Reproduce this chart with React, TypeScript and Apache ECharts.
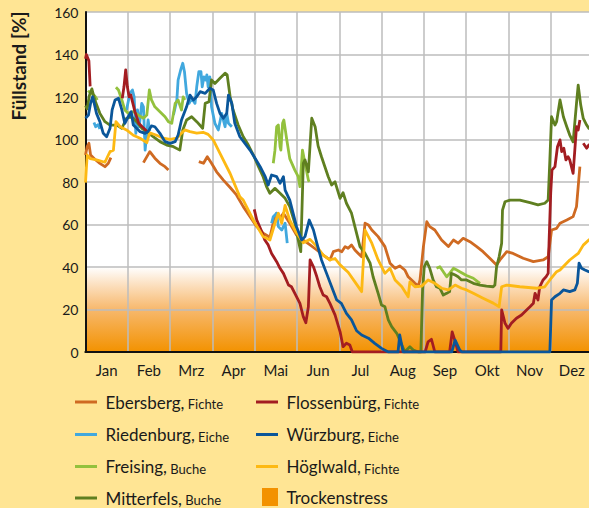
import React, { useEffect, useRef } from "react";
import * as echarts from "echarts";

// x = month position (0 = 1 Jan, 12 = 31 Dec), y = Füllstand in %
const months = ["Jan", "Feb", "Mrz", "Apr", "Mai", "Jun", "Jul", "Aug", "Sep", "Okt", "Nov", "Dez"];

const ebersberg: number[][][] = [
  [[0, 92.7], [0.04, 96.6], [0.08, 98.2], [0.12, 92.7], [0.22, 90.7], [0.34, 88.8], [0.46, 87.2], [0.54, 88.8], [0.6, 91.5]],
  [[1.37, 89.1], [1.52, 94.3], [1.64, 91.2], [1.76, 88.8], [1.88, 87.2], [1.96, 85.6]],
  [[2.68, 89.6], [2.79, 88.8], [2.88, 91.9], [2.98, 88.8], [3.1, 84.8], [3.26, 80.9], [3.42, 77.4], [3.57, 73.9], [3.73, 68.4],
   [3.89, 63.7], [4.05, 59], [4.2, 55.9], [4.36, 54], [4.43, 60], [4.52, 65.3], [4.6, 63], [4.68, 65.3], [4.83, 60.6], [4.99, 55],
   [5.15, 52.7], [5.31, 50.4], [5.47, 48], [5.62, 45.6], [5.78, 43.3], [5.86, 47.2], [5.98, 48], [6.06, 47.2], [6.14, 49.6],
   [6.21, 48.8], [6.29, 50.4], [6.37, 48], [6.45, 46.4], [6.53, 44.8], [6.61, 60.6], [6.69, 59.8], [6.77, 57.4], [6.92, 54.3],
   [7.08, 49.6], [7.2, 41.8], [7.32, 39.4], [7.43, 40.5], [7.55, 38.6], [7.63, 35.4], [7.79, 32.3], [7.87, 31], [7.91, 33.9],
   [7.99, 49.6], [8.07, 61.3], [8.14, 59], [8.26, 57.4], [8.42, 52.7], [8.58, 49.6], [8.7, 52.7], [8.81, 51.2], [8.93, 53.5],
   [9.09, 51.9], [9.25, 49.6], [9.4, 47.2], [9.56, 44.1], [9.72, 40.9], [9.8, 43.3], [9.96, 47.2], [10.11, 46.4], [10.35, 44.1],
   [10.59, 42.5], [10.82, 43.3], [10.94, 44.8], [11.02, 57.4], [11.14, 58.2], [11.22, 60.6], [11.38, 62.1], [11.53, 63.7],
   [11.61, 68.4], [11.65, 77.8], [11.69, 87.2]],
];

const flossenbuerg: number[][][] = [
  [[0, 138], [0.02, 140], [0.08, 137], [0.11, 125]],
  [[0.87, 119.4], [0.91, 124.8], [0.95, 132.7], [0.99, 124.8], [1.03, 120.1], [1.07, 121], [1.11, 117.8], [1.17, 113],
   [1.26, 107.6], [1.34, 106], [1.42, 104.5], [1.46, 103.7]],
  [[3.99, 67.1], [4.05, 62.1], [4.17, 56.6], [4.24, 52.7], [4.32, 50.4], [4.4, 46.4], [4.52, 42.5], [4.6, 39.4], [4.68, 37],
   [4.8, 31.5], [4.87, 30.7], [4.95, 27.6], [5.07, 22.9], [5.15, 16.6], [5.21, 13.8], [5.27, 21.3], [5.31, 43.3], [5.39, 40.1],
   [5.47, 35.4], [5.54, 30.7], [5.62, 26.8], [5.7, 26], [5.78, 22.9], [5.9, 17.5], [6.02, 9.5], [6.09, 2.5], [6.17, 4.1],
   [6.25, 3.3], [6.31, 0], [8.03, 0], [8.1, 4.8], [8.18, 6], [8.26, 0], [8.61, 0], [8.67, 9.5], [8.74, 5], [8.81, 0],
   [9.82, 0], [9.84, 19.8], [9.92, 13.5], [9.99, 11.1], [10.07, 13.5], [10.19, 15.9], [10.31, 17.4], [10.43, 19.8],
   [10.51, 21.3], [10.59, 22.9], [10.63, 27.6], [10.7, 24.5], [10.74, 30.7], [10.82, 33.9], [10.89, 35.4], [10.94, 37],
   [10.96, 51.2], [11.0, 74.7], [11.03, 85.6], [11.1, 87.2], [11.16, 96.6], [11.22, 99.8], [11.26, 94.3], [11.31, 95.9],
   [11.36, 90.4], [11.41, 91.9], [11.45, 90.4], [11.53, 84.1], [11.57, 95], [11.61, 106], [11.65, 104.5], [11.69, 109.2]],
  [[11.77, 98.2], [11.85, 95.9], [11.9, 97.4], [12, 96]],
];

const riedenburg: number[][][] = [
  [[0.2, 108], [0.24, 106], [0.3, 107], [0.34, 105]],
  [[0.97, 113.9], [1.05, 121.7], [1.11, 123.3], [1.15, 120.1], [1.19, 102.9], [1.23, 113.9], [1.27, 106], [1.33, 117],
   [1.37, 115.4], [1.41, 95], [1.45, 102.9], [1.48, 109.2], [1.52, 104]],
  [[2.08, 111.5], [2.16, 118.6], [2.19, 128], [2.25, 132.7], [2.3, 135.9], [2.34, 131.9], [2.39, 121.7], [2.45, 117],
   [2.51, 119.4], [2.59, 117], [2.63, 124.8], [2.68, 131.9], [2.73, 131.9], [2.76, 124.8], [2.8, 129.5], [2.84, 128],
   [2.87, 130.4], [2.9, 124.8], [2.94, 129.5], [2.98, 115.4], [3.06, 107.6], [3.14, 104.5], [3.22, 112.3], [3.3, 106],
   [3.34, 112.3], [3.38, 107.6], [3.46, 106]],
  [[4.4, 60.6], [4.44, 63.7], [4.52, 65.3], [4.56, 59], [4.64, 57.4], [4.72, 60.6], [4.77, 51.2]],
];

const wuerzburg: number[][][] = [
  [[0, 110], [0.07, 111.5], [0.12, 117], [0.17, 120.1], [0.26, 112.3], [0.34, 108.4], [0.42, 102.9], [0.5, 101.3], [0.58, 105.3],
   [0.63, 113.9], [0.7, 118.6], [0.78, 119.4], [0.86, 113.9], [0.93, 107.6], [1.01, 110.7], [1.08, 113.1], [1.13, 106.8],
   [1.21, 105.3], [1.29, 103.7], [1.41, 102.9], [1.48, 103.7], [1.56, 106.4], [1.64, 106], [1.76, 102.9], [1.88, 99],
   [2.0, 98.2], [2.12, 99], [2.19, 102.1], [2.27, 109.2], [2.39, 115.4], [2.47, 120.9], [2.55, 118.6], [2.63, 120.1],
   [2.71, 122.5], [2.83, 121.7], [2.94, 124.1], [3.02, 123.3], [3.1, 117], [3.18, 112.3], [3.26, 110], [3.34, 112.3],
   [3.38, 120.9], [3.46, 117], [3.53, 107.6], [3.65, 101.3], [3.77, 98.2], [3.89, 95], [4.01, 91.2], [4.13, 87.2],
   [4.25, 82.5], [4.32, 78.6], [4.4, 83.3], [4.52, 82.5], [4.6, 79.4], [4.68, 82.5], [4.72, 76.2], [4.83, 71.5], [4.99, 59],
   [5.11, 52.7], [5.19, 54.3], [5.29, 62.1], [5.39, 57.4], [5.47, 51.2], [5.58, 43.3], [5.7, 37], [5.82, 30.7], [5.94, 24.5],
   [6.05, 22.9], [6.17, 18.2], [6.29, 15.1], [6.41, 10], [6.53, 8], [6.69, 6.5], [6.84, 4.1], [7.0, 1.7], [7.16, 0],
   [7.39, 0], [7.43, 8], [7.51, 0], [8.66, 0], [8.74, 5.6], [8.85, 0.9], [8.9, 0], [10.98, 0], [11.02, 24.5], [11.1, 26],
   [11.22, 27.6], [11.3, 29.2], [11.45, 28.4], [11.57, 29.2], [11.63, 32.3], [11.67, 41.8], [11.73, 39.4], [11.81, 38.6],
   [11.9, 37.8], [12, 37.5]],
];

const freising: number[][][] = [
  [[0.06, 123], [0.11, 122], [0.22, 120.5], [0.28, 118.6]],
  [[0.72, 124.6], [0.78, 123.3], [0.86, 118.6], [0.93, 113.9], [1.01, 112.3], [1.13, 113.1], [1.25, 111.5], [1.37, 110],
   [1.45, 111.5], [1.51, 123.3], [1.56, 118.6], [1.64, 115.4], [1.76, 113.1], [1.88, 110.7], [1.96, 108.4], [2.04, 107.6],
   [2.08, 112.3], [2.12, 117], [2.19, 118.6], [2.27, 113.9], [2.31, 120.1], [2.35, 118.6]],
  [[4.44, 88.8], [4.48, 95], [4.52, 106], [4.56, 106.8], [4.6, 96.6], [4.62, 95], [4.66, 107.6], [4.69, 109.2], [4.76, 99.8],
   [4.83, 91], [4.95, 85.6], [5.03, 82.5], [5.07, 77.8], [5.13, 95], [5.19, 88.8], [5.27, 80.9], [5.29, 80.1]],
  [[8.3, 39.4], [8.38, 40.1], [8.46, 37.8], [8.54, 35.4], [8.61, 37], [8.7, 39.4], [8.78, 38.6], [8.85, 37.8], [9.01, 36],
   [9.17, 34.7], [9.28, 33], [9.33, 32.3]],
];

const hoeglwald: number[][][] = [
  [[0, 79.7], [0.04, 92.7], [0.11, 91], [0.26, 90.4], [0.46, 89.3], [0.54, 92.7], [0.58, 94.3], [0.66, 95], [0.72, 108.4],
   [0.82, 106], [0.97, 104.5], [1.13, 102], [1.29, 100.6], [1.45, 98.5], [1.52, 103.2], [1.68, 102], [1.84, 100.6],
   [2.0, 100.1], [2.16, 100.6], [2.27, 103], [2.35, 104.5], [2.47, 103.7], [2.63, 103], [2.78, 103.4], [2.9, 102.4],
   [3.02, 99.8], [3.18, 93.5], [3.42, 84], [3.65, 73], [3.73, 71.5], [3.97, 62], [4.2, 54.3], [4.36, 52.7], [4.48, 60.6],
   [4.56, 65.3], [4.64, 60.6], [4.72, 69], [4.83, 62], [4.99, 56], [5.15, 51.4], [5.31, 53], [5.47, 49.6], [5.62, 45.6],
   [5.78, 43.3], [5.9, 44], [6.02, 41], [6.21, 37.5], [6.37, 33], [6.53, 28.4], [6.61, 57.4], [6.77, 51.2], [6.92, 43.3],
   [7.08, 37], [7.2, 39.4], [7.32, 33.9], [7.48, 30.7], [7.63, 26], [7.67, 33], [7.79, 30.7], [7.95, 31], [8.1, 33.9],
   [8.26, 32.3], [8.42, 30], [8.58, 29.2], [8.74, 31.5], [8.89, 30], [9.01, 29.2], [9.17, 27.6], [9.4, 25.3], [9.64, 23],
   [9.78, 21.3], [9.84, 30.7], [9.96, 31.5], [10.27, 30.7], [10.67, 30], [10.86, 30.7], [10.98, 33.9], [11.14, 37.8],
   [11.22, 38.6], [11.45, 43.3], [11.65, 46.4], [11.77, 50.3], [11.9, 52.7], [12, 54]],
];

const mitterfels: number[][][] = [
  [[0, 115.9], [0.04, 114.4], [0.09, 120.6], [0.15, 123.8], [0.22, 118.6], [0.34, 112.3], [0.46, 108.4], [0.58, 106.8],
   [0.74, 106.8], [0.86, 105.3], [0.97, 110], [1.09, 110.7], [1.21, 108.4], [1.33, 105.3], [1.45, 103.7], [1.6, 101.3],
   [1.76, 99], [1.92, 97.4], [2.08, 96.6], [2.23, 95], [2.3, 104.5], [2.39, 109.2], [2.51, 110.7], [2.63, 108.4],
   [2.77, 105.3], [2.83, 117], [2.92, 117.8], [2.98, 128], [3.06, 126.4], [3.18, 128.8], [3.3, 131.2], [3.35, 130.4],
   [3.42, 120.1], [3.49, 113.9], [3.61, 106.8], [3.73, 101.3], [3.85, 97.4], [3.97, 92.7], [4.09, 87.2], [4.2, 82.5],
   [4.28, 77.8], [4.36, 74.7], [4.48, 77], [4.6, 74.7], [4.72, 72.3], [4.83, 68.4], [4.95, 60.6], [5.03, 52.7],
   [5.09, 47.2], [5.15, 88.8], [5.19, 90.4], [5.27, 84.8], [5.35, 110], [5.43, 106], [5.5, 97], [5.58, 91.9],
   [5.66, 87.2], [5.74, 82.5], [5.82, 78.6], [5.9, 80.1], [6.02, 72.3], [6.09, 75], [6.17, 70], [6.29, 65.3], [6.37, 59],
   [6.49, 49.6], [6.61, 46.4], [6.73, 41.8], [6.8, 35.4], [6.92, 27.6], [7.0, 22.1], [7.08, 21.3], [7.16, 15.1],
   [7.24, 11.9], [7.36, 8.8], [7.48, 3.3], [7.55, 0.1], [7.67, 2.5], [7.75, 0.9], [7.87, 0], [7.93, 0], [7.97, 29.2],
   [8.01, 40.1], [8.07, 42.5], [8.14, 39.4], [8.22, 33.9], [8.3, 30.7], [8.38, 30], [8.46, 26.8], [8.54, 27.6],
   [8.61, 28.4], [8.65, 37], [8.74, 36.2], [8.81, 35.4], [8.89, 33.9], [9.01, 33.9], [9.17, 32.3], [9.33, 31.5],
   [9.48, 31], [9.64, 30.7], [9.68, 31.5], [9.72, 40.1], [9.78, 44.8], [9.84, 51.2], [9.86, 66.8], [9.92, 70.7],
   [10.04, 71.5], [10.27, 71.5], [10.51, 70.3], [10.7, 69.2], [10.86, 70], [10.94, 71.5], [10.98, 90.4], [11.02, 110.7],
   [11.1, 106.8], [11.14, 108.4], [11.22, 118.6], [11.3, 110.7], [11.38, 106], [11.45, 102.1], [11.53, 98.9],
   [11.61, 117], [11.65, 125.6], [11.71, 116.2], [11.77, 109.9], [11.85, 106.8], [11.9, 105.3], [12, 104]],
];

const stationNames = ["Ebersberg", "Flossenbürg", "Riedenburg", "Würzburg", "Freising", "Höglwald", "Mitterfels"];
const treeTypes = ["Fichte", "Fichte", "Eiche", "Eiche", "Buche", "Fichte", "Buche"];
const stationData = [ebersberg, flossenbuerg, riedenburg, wuerzburg, freising, hoeglwald, mitterfels];
const stressLabel = "Trockenstress";
const stressLimit = 40;

const COLORS = ["#CF6A22", "#A31D21", "#41A8DE", "#0A569A", "#93C13D", "#FDB913", "#5F7F20"];
const BG = "#FFE594";
const FONT = "Lato";
const TXT = "#1a1a1a";
const DRAW_ORDER = [0, 2, 4, 6, 1, 5, 3];

export default function App() {
  const ref = useRef<HTMLDivElement>(null);

  useEffect(() => {
    if (!ref.current) return;
    const chart = echarts.init(ref.current, undefined, { renderer: "svg" });

    const series: any[] = [];
    DRAW_ORDER.forEach((i) => {
      stationData[i].forEach((seg, k) => {
        series.push({
          type: "line",
          name: stationNames[i] + "-" + k,
          xAxisIndex: 0,
          yAxisIndex: 0,
          data: seg,
          symbol: "none",
          showSymbol: false,
          silent: true,
          lineStyle: { color: COLORS[i], width: 2.8, join: "round" },
        });
      });
    });

    const legendRowsY = [402, 434.5, 466.5, 498];
    const leftCol = [0, 2, 4, 6];
    const rightCol = [1, 3, 5];
    const graphic: any[] = [];
    const addItem = (idx: number, x: number, y: number) => {
      graphic.push({
        type: "line",
        shape: { x1: x, y1: y, x2: x + 22, y2: y },
        style: { stroke: COLORS[idx], lineWidth: 3 },
      });
      graphic.push({
        type: "text",
        x: x + 30.5,
        y: y,
        style: {
          text: "{a|" + stationNames[idx] + ",} {b|" + treeTypes[idx] + "}",
          verticalAlign: "middle",
          align: "left",
          rich: {
            a: { fontSize: 17, fontFamily: FONT, fill: TXT, verticalAlign: "bottom" },
            b: { fontSize: 13, fontFamily: FONT, fill: TXT, verticalAlign: "bottom" },
          },
        },
      });
    };
    leftCol.forEach((idx, r) => addItem(idx, 75, legendRowsY[r]));
    rightCol.forEach((idx, r) => addItem(idx, 256, legendRowsY[r]));
    graphic.push({
      type: "rect",
      shape: { x: 262, y: 488, width: 16, height: 18 },
      style: { fill: "#F39200" },
    });
    graphic.push({
      type: "text",
      x: 286.5,
      y: 497.5,
      style: { text: stressLabel, fontSize: 17, fontFamily: FONT, fill: TXT, verticalAlign: "middle" },
    });
    graphic.push({
      type: "text",
      x: 18,
      y: 66,
      rotation: Math.PI / 2,
      style: {
        text: "Füllstand [%]",
        fontSize: 19,
        fontWeight: "bold",
        fontFamily: FONT,
        fill: TXT,
        align: "center",
        verticalAlign: "middle",
      },
    });

    const stressStop = 1 - stressLimit / 160;
    const option: any = {
      animation: false,
      backgroundColor: BG,
      grid: {
        left: 85.5,
        top: 12,
        width: 507.5,
        height: 340,
        show: true,
        borderWidth: 0,
        backgroundColor: new echarts.graphic.LinearGradient(0, 0, 0, 1, [
          { offset: 0, color: "#ffffff" },
          { offset: stressStop, color: "#ffffff" },
          { offset: stressStop + 0.05, color: "#FCE1C2" },
          { offset: stressStop + 0.125, color: "#F7B86C" },
          { offset: 1, color: "#F39200" },
        ]),
      },
      xAxis: [
        {
          type: "value",
          min: 0,
          max: 12,
          interval: 1,
          position: "top",
          axisLine: { show: true, lineStyle: { color: "#6B5E3A", width: 2 } },
          axisTick: { show: false },
          axisLabel: { show: false },
          splitLine: { show: true, lineStyle: { color: "#bdbdbd", width: 1.5 } },
        },
        {
          type: "category",
          data: months,
          position: "bottom",
          boundaryGap: true,
          z: 3,
          axisLine: { show: true, lineStyle: { color: "#111", width: 2 } },
          axisTick: { show: false },
          splitLine: { show: false },
          axisLabel: { fontSize: 15, fontFamily: FONT, color: TXT, margin: 10 },
        },
      ],
      yAxis: {
        type: "value",
        min: 0,
        max: 160,
        interval: 20,
        axisLine: { show: true, lineStyle: { color: "#111", width: 2 } },
        axisTick: { show: false },
        axisLabel: { fontSize: 14, fontFamily: FONT, color: TXT, margin: 7 },
        splitLine: { show: true, lineStyle: { color: "#bdbdbd", width: 1.5 } },
      },
      series,
      graphic,
    };
    chart.setOption(option);
    return () => chart.dispose();
  }, []);

  return (
    <div style={{ position: "fixed", left: 0, top: 0, width: 589, height: 508, overflow: "hidden", background: BG }}>
      <div ref={ref} style={{ width: 600, height: 508 }} />
    </div>
  );
}
